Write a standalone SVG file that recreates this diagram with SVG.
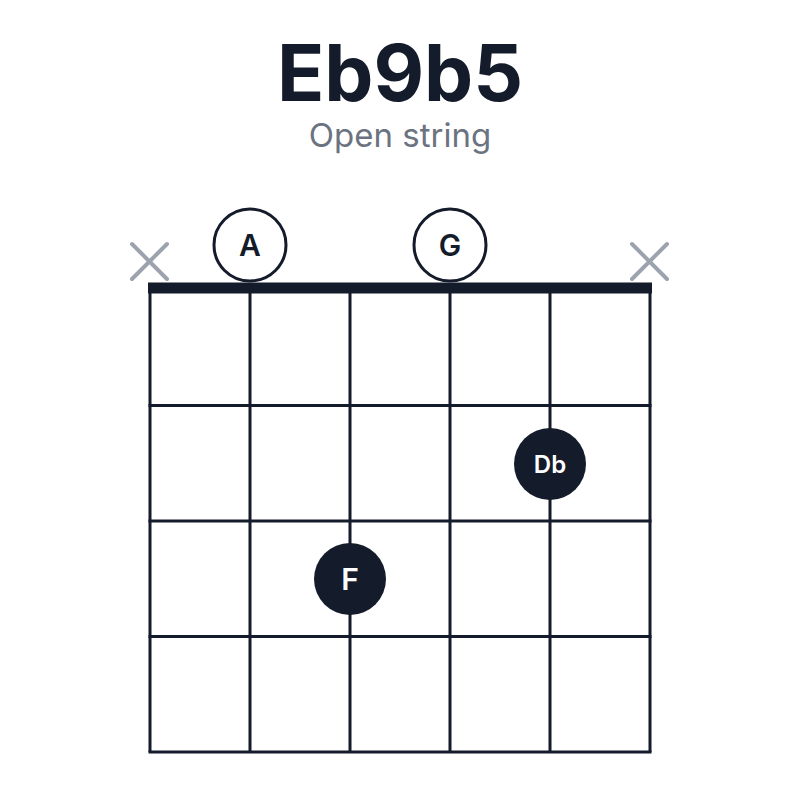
<svg xmlns="http://www.w3.org/2000/svg" width="800" height="800" viewBox="0 0 800 800">
<style>
.title{font-family:Inter,"Liberation Sans",sans-serif;font-weight:700;font-size:78px;fill:#141b2b}
.sub{font-family:Inter,"Liberation Sans",sans-serif;font-size:33px;fill:#6b7280}
.grid line{stroke:#141b2b;stroke-width:3}
.x{stroke:#9ca3af;stroke-width:4;stroke-linecap:round}
.open circle{fill:#fff;stroke:#141b2b;stroke-width:3}
.open text{font-family:Inter,"Liberation Sans",sans-serif;font-size:30px;font-weight:600;fill:#141b2b;text-anchor:middle}
.dot circle{fill:#141b2b}
.dot text{font-family:Inter,"Liberation Sans",sans-serif;font-weight:600;fill:#fff;text-anchor:middle}
</style>
<rect width="800" height="800" fill="#fff"/>
<text class="title" x="400" y="101" text-anchor="middle">Eb9b5</text>
<text class="sub" x="400" y="147" text-anchor="middle">Open string</text>
<g id="grid" class="grid">
<line x1="150" y1="288" x2="150" y2="752"/>
<line x1="250" y1="288" x2="250" y2="752"/>
<line x1="350" y1="288" x2="350" y2="752"/>
<line x1="450" y1="288" x2="450" y2="752"/>
<line x1="550" y1="288" x2="550" y2="752"/>
<line x1="650" y1="288" x2="650" y2="752"/>
<line x1="148.5" y1="405.5" x2="651.5" y2="405.5"/>
<line x1="148.5" y1="521" x2="651.5" y2="521"/>
<line x1="148.5" y1="636.5" x2="651.5" y2="636.5"/>
<line x1="148.5" y1="752" x2="651.5" y2="752"/>
<rect x="148" y="282.5" width="504" height="11" fill="#141b2b"/>
</g>
<g id="mute-1" class="x"><line x1="132" y1="244" x2="167" y2="279"/><line x1="167" y1="244" x2="132" y2="279"/></g>
<g id="mute-6" class="x"><line x1="632" y1="244" x2="667" y2="279"/><line x1="667" y1="244" x2="632" y2="279"/></g>
<g id="open-A" class="open"><circle cx="250" cy="245" r="36"/><text x="250" y="256">A</text></g>
<g id="open-G" class="open"><circle cx="450" cy="245" r="36"/><text x="450" y="256">G</text></g>
<g id="dot-Db" class="dot"><circle cx="550" cy="464" r="36"/><text x="550" y="473" font-size="24">Db</text></g>
<g id="dot-F" class="dot"><circle cx="350" cy="579" r="36"/><text x="350" y="590" font-size="30">F</text></g>
</svg>
